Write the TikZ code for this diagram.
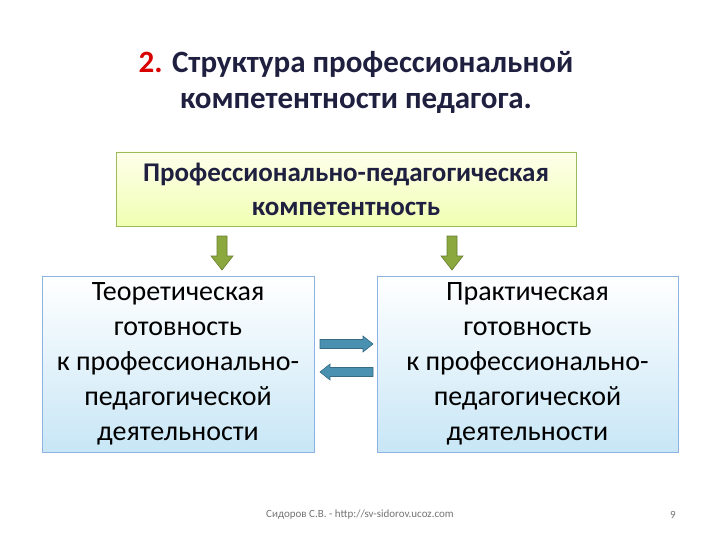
\documentclass[tikz,border=0pt]{standalone}
\usepackage{fontspec}
\setmainfont{Carlito}
\definecolor{navy}{HTML}{1F1F3F}
\definecolor{gborder}{HTML}{9BBB59}
\definecolor{bborder}{HTML}{8DB3E2}
\definecolor{garrow}{HTML}{8AA83E}
\definecolor{barrow}{HTML}{4A90B0}
\definecolor{lblue}{HTML}{C8E6F6}
\tikzset{
  topbox/.style={draw=gborder,line width=0.8pt,top color=green!3!yellow!8,bottom color=green!20!yellow!30,minimum width=460pt,minimum height=74pt,align=center,inner sep=0pt,text=navy,font=\fontsize{27}{34}\selectfont\bfseries},
  lowbox/.style={draw=bborder,line width=0.8pt,top color=white,bottom color=lblue,minimum height=176pt,align=center,inner sep=0pt,text=black,font=\fontsize{28}{35}\selectfont},
  garr/.style={draw=garrow!75!black,line width=0.6pt,fill=garrow},
  barr/.style={draw=barrow!75!black,line width=0.6pt,fill=barrow}
}
\begin{document}
\begin{tikzpicture}[x=1pt,y=-1pt]
\useasboundingbox (0,0) rectangle (720,540);
\node[font=\fontsize{31}{36}\selectfont\bfseries,text=navy,align=center] (title) at (356,82) {{\color{red!85!black}2.} Структура профессиональной\\компетентности педагога.};
\node[topbox] (top) at (346,189) {Профессионально-педагогическая\\компетентность};
\node[lowbox,minimum width=272pt] (left) at (178,364) {Теоретическая\\готовность\\к профессионально-\\педагогической\\деятельности};
\node[lowbox,minimum width=301pt] (right) at (527.5,364) {Практическая\\готовность\\к профессионально-\\педагогической\\деятельности};
\coordinate (ga) at (222,236);
\coordinate (gb) at (452,236);
\foreach \c in {ga,gb}
  \draw[garr] (\c) ++(-5,0) -- ++(10,0) -- ++(0,20) -- ++(6,0) -- ++(-11,14) -- ++(-11,-14) -- ++(6,0) -- cycle;
\coordinate (ra) at (320,344);
\coordinate (la) at (373,372);
\draw[barr] (ra) ++(0,-4.5) -- ++(43,0) -- ++(0,-3.5) -- ++(10,8) -- ++(-10,8) -- ++(0,-3.5) -- ++(-43,0) -- cycle;
\draw[barr] (la) ++(0,-4.5) -- ++(-43,0) -- ++(0,-3.5) -- ++(-10,8) -- ++(10,8) -- ++(0,-3.5) -- ++(43,0) -- cycle;
\node[font=\fontsize{11}{13}\selectfont,text=black!55] (foot) at (360,515) {Сидоров С.В. - http://sv-sidorov.ucoz.com};
\node[font=\fontsize{11}{13}\selectfont,text=black!55] (num) at (673,515) {9};
\end{tikzpicture}
\end{document}
